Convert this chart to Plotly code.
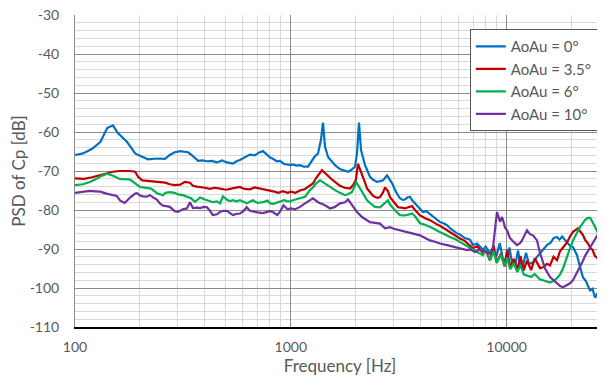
import plotly.graph_objects as go

# AoAu = 0 deg
freq_0 = [
    100, 109, 120, 131, 141, 150, 158, 166, 174, 182,
    190, 200, 218, 240, 261, 275, 290, 307, 320, 334,
    352, 372, 390, 409, 430, 455, 480, 506, 540, 560,
    581, 610, 646, 682, 710, 743, 776, 800, 828, 860,
    891, 930, 960, 1000, 1024, 1060, 1103, 1150, 1202, 1240,
    1290, 1337, 1380, 1410, 1441, 1488, 1550, 1603, 1690, 1746,
    1841, 1920, 1984, 2027, 2070, 2115, 2160, 2208, 2260, 2328,
    2400, 2509, 2600, 2675, 2792, 2870, 2944, 3080, 3206, 3300,
    3382, 3470, 3568, 3650, 3763, 3850, 3970, 4099, 4250, 4416,
    4560, 4730, 4913, 5100, 5294, 5500, 5700, 5891, 6081, 6400,
    6767, 6987, 7300, 7775, 8000, 8375, 8600, 9000, 9300, 9600,
    10044, 10300, 10600, 11000, 11300, 11600, 11913, 12300, 12700, 13253,
    13833, 14300, 14748, 15390, 16000, 16500, 17124, 17600, 18100, 19053,
    19700, 20314, 20700, 21200, 21700, 22594, 23300, 24350, 25000, 25700,
    26300, 27093, 27800, 28576,
]
psd_0 = [
    -65.9, -65.5, -64.3, -62.6, -59.0, -58.3, -60.3, -61.4, -62.5, -64.0,
    -65.5, -66.1, -67.0, -66.8, -66.9, -65.9, -65.2, -64.9, -65.0, -65.2,
    -66.2, -67.4, -67.3, -67.5, -67.4, -67.8, -67.3, -67.8, -68.1, -67.5,
    -67.2, -66.5, -65.8, -66.0, -65.3, -64.9, -65.9, -66.5, -66.9, -67.5,
    -67.4, -68.2, -68.3, -68.5, -68.3, -68.6, -68.5, -68.9, -68.9, -67.6,
    -66.3, -65.5, -62.0, -57.6, -63.8, -66.4, -67.6, -68.5, -69.5, -69.8,
    -70.2, -69.6, -68.9, -65.5, -57.6, -64.6, -66.8, -68.5, -69.8, -71.5,
    -72.2, -72.8, -72.6, -72.4, -71.1, -72.3, -73.1, -75.5, -77.0, -77.4,
    -77.3, -76.8, -76.6, -77.5, -78.3, -78.9, -79.6, -80.5, -80.3, -81.0,
    -81.8, -82.4, -83.1, -83.4, -83.9, -84.8, -85.4, -86.0, -86.3, -87.2,
    -87.6, -89.0, -88.6, -90.2, -89.4, -91.1, -90.5, -91.5, -88.5, -92.4,
    -93.4, -89.6, -93.6, -93.8, -90.4, -94.6, -94.2, -91.0, -93.8, -93.5,
    -92.0, -91.2, -90.2, -89.0, -88.4, -87.2, -86.9, -87.6, -86.8, -88.3,
    -89.2, -89.5, -90.6, -91.6, -93.8, -97.3, -98.2, -100.6, -100.2, -102.5,
    -101.4, -103.2, -102.6, -104.0,
]

# AoAu = 3.5 deg
freq_35 = [
    100, 110, 120, 131, 141, 150, 160, 170, 180, 190,
    196, 205, 215, 230, 248, 262, 275, 290, 307, 323,
    341, 352, 367, 380, 400, 422, 445, 470, 500, 530,
    560, 581, 610, 646, 680, 719, 760, 802, 840, 875,
    920, 966, 1000, 1050, 1103, 1164, 1227, 1267, 1309, 1366,
    1395, 1441, 1500, 1560, 1603, 1690, 1780, 1881, 1950, 2000,
    2048, 2100, 2138, 2208, 2256, 2328, 2400, 2456, 2520, 2591,
    2675, 2733, 2822, 2883, 3000, 3140, 3250, 3382, 3500, 3645,
    3763, 3845, 3970, 4100, 4188, 4416, 4560, 4800, 5000, 5294,
    5500, 5800, 6081, 6400, 6700, 6987, 7300, 7775, 8000, 8375,
    8700, 9000, 9400, 9800, 10044, 10400, 10800, 11200, 11600, 12000,
    12431, 13000, 13500, 14283, 14748, 15390, 15891, 16500, 17124, 17700,
    18257, 19053, 19673, 20314, 20753, 21428, 21888, 22594, 23085, 23834,
    24350, 25000, 25688, 26240, 27093, 27800, 28576,
]
psd_35 = [
    -71.9, -72.0, -71.6, -71.0, -70.6, -70.2, -70.0, -70.0, -70.0, -70.2,
    -71.5, -72.4, -72.5, -72.6, -72.8, -73.0, -73.4, -73.6, -73.5, -72.8,
    -73.0, -73.8, -74.0, -74.2, -74.3, -74.6, -74.3, -74.5, -74.8, -74.5,
    -74.2, -74.1, -74.6, -74.7, -74.2, -74.5, -74.8, -74.9, -75.3, -75.6,
    -75.2, -75.6, -75.3, -75.6, -75.0, -74.6, -73.8, -73.2, -71.8, -70.3,
    -69.8, -70.5, -71.5, -72.3, -72.8, -73.8, -74.3, -74.5, -73.5, -72.4,
    -68.2, -70.0, -71.1, -73.0, -74.5, -75.5, -76.3, -76.7, -76.9, -76.7,
    -75.5, -74.2, -75.2, -76.7, -78.0, -79.3, -79.4, -79.6, -79.3, -79.0,
    -80.0, -80.5, -81.4, -81.8, -82.1, -82.6, -83.1, -83.8, -84.3, -85.2,
    -85.7, -86.7, -87.3, -87.9, -88.9, -89.8, -89.3, -91.0, -90.4, -92.9,
    -89.0, -93.5, -91.2, -94.5, -90.2, -94.8, -92.5, -95.3, -91.8, -95.5,
    -93.0, -95.4, -92.4, -94.9, -94.7, -93.8, -94.2, -92.0, -92.9, -90.5,
    -89.6, -88.3, -86.8, -85.6, -85.2, -84.7, -85.4, -86.4, -87.6, -88.6,
    -89.6, -90.2, -91.8, -92.2, -93.6, -94.2, -95.0,
]

# AoAu = 6 deg
freq_6 = [
    100, 109, 117, 124, 131, 141, 150, 156, 162, 170,
    180, 190, 200, 207, 216, 225, 240, 256, 262, 275,
    290, 300, 316, 330, 345, 360, 380, 400, 420, 436,
    455, 470, 485, 506, 523, 540, 560, 581, 610, 625,
    645, 667, 700, 743, 780, 802, 830, 865, 900, 930,
    966, 1000, 1050, 1103, 1164, 1227, 1267, 1309, 1366, 1420,
    1472, 1530, 1603, 1690, 1783, 1850, 1921, 1984, 2005, 2050,
    2093, 2150, 2256, 2350, 2456, 2591, 2675, 2822, 2883, 2976,
    3100, 3206, 3382, 3500, 3645, 3763, 3970, 4188, 4416, 4560,
    4800, 5000, 5294, 5500, 5800, 6081, 6400, 6700, 6987, 7300,
    7775, 8000, 8375, 8700, 9000, 9400, 9800, 10044, 10400, 10800,
    11200, 11600, 12000, 12431, 13000, 13500, 14283, 14748, 15390, 15891,
    16500, 17124, 17700, 18257, 19053, 19673, 20314, 20753, 21428, 21888,
    22594, 23085, 23834, 24350, 25000, 25688, 26240, 27093, 27800, 28576,
]
psd_6 = [
    -73.6, -73.4, -72.8, -72.2, -71.4, -70.7, -71.2, -71.7, -72.1, -72.1,
    -72.2, -73.2, -74.1, -74.2, -74.3, -74.5, -75.7, -76.2, -75.6, -75.4,
    -75.6, -76.0, -76.2, -76.5, -77.0, -77.9, -76.8, -77.3, -77.8, -78.0,
    -77.8, -78.3, -76.5, -77.4, -77.7, -77.5, -77.8, -77.5, -78.0, -78.3,
    -77.9, -77.5, -78.2, -78.0, -77.6, -78.3, -78.4, -78.0, -77.8, -77.5,
    -77.8, -77.7, -77.3, -77.0, -76.6, -74.9, -74.2, -73.2, -72.4, -73.0,
    -73.6, -74.3, -74.9, -75.6, -76.2, -75.9, -75.4, -73.6, -72.8, -73.6,
    -74.5, -75.8, -77.5, -78.4, -79.2, -79.3, -78.6, -77.5, -78.6, -79.6,
    -80.6, -81.3, -81.4, -81.2, -80.9, -81.6, -83.4, -83.8, -84.3, -84.7,
    -85.4, -85.9, -86.5, -87.0, -87.5, -88.2, -88.8, -89.7, -90.3, -90.8,
    -91.6, -89.8, -92.9, -90.6, -93.6, -91.4, -94.4, -92.2, -95.2, -93.6,
    -95.9, -94.2, -96.5, -96.8, -97.2, -96.4, -97.8, -98.0, -98.3, -98.6,
    -98.2, -97.5, -96.5, -95.0, -92.0, -89.6, -87.8, -86.8, -85.2, -84.4,
    -83.3, -82.6, -82.0, -82.0, -83.0, -84.5, -85.2, -87.0, -88.3, -89.6,
]

# AoAu = 10 deg
freq_10 = [
    100, 110, 117, 124, 131, 140, 150, 156, 162, 170,
    180, 190, 194, 200, 207, 215, 222, 231, 240, 248,
    256, 265, 275, 290, 300, 316, 330, 341, 352, 367,
    380, 395, 409, 422, 435, 455, 470, 485, 506, 523,
    540, 560, 581, 600, 625, 646, 667, 700, 743, 780,
    802, 830, 865, 890, 925, 966, 1000, 1050, 1103, 1164,
    1227, 1267, 1337, 1441, 1519, 1603, 1690, 1783, 1841, 1921,
    2027, 2138, 2256, 2328, 2456, 2591, 2733, 2883, 3000, 3206,
    3382, 3568, 3763, 3970, 4188, 4416, 4700, 4913, 5294, 5466,
    5891, 6081, 6553, 6767, 7138, 7500, 7775, 8100, 8375, 8650,
    8932, 9028, 9320, 9521, 9623, 9831, 10044, 10370, 10708, 11174,
    11538, 11787, 12431, 12835, 13253, 13833, 14283, 14748, 15064, 15891,
    16500, 17124, 17700, 18257, 19053, 19673, 20314, 20753, 21428, 21888,
    22594, 23085, 23834, 24350, 25000, 25688, 26240, 27093, 27800, 28576,
]
psd_10 = [
    -75.6, -75.3, -75.1, -75.2, -75.3, -75.8, -76.2, -76.4, -77.6, -78.2,
    -76.8, -75.8, -75.7, -76.3, -76.5, -76.6, -76.2, -76.9, -77.4, -78.4,
    -78.9, -79.0, -79.2, -80.3, -80.5, -79.8, -79.6, -78.0, -79.5, -79.4,
    -79.5, -79.2, -79.3, -80.2, -81.3, -81.1, -80.5, -80.2, -80.2, -80.8,
    -81.3, -81.0, -80.9, -80.4, -79.3, -80.2, -80.4, -80.6, -80.8, -80.5,
    -80.3, -80.6, -81.3, -80.5, -78.8, -79.8, -79.6, -79.8, -79.2, -78.3,
    -77.5, -77.0, -78.0, -78.8, -79.6, -79.2, -78.3, -78.0, -77.3, -78.8,
    -80.5, -81.8, -82.6, -83.1, -83.3, -83.5, -84.7, -84.4, -84.8, -85.2,
    -85.5, -86.0, -86.3, -86.5, -87.2, -87.8, -88.2, -88.6, -89.0, -89.2,
    -89.6, -89.8, -90.3, -90.1, -90.8, -90.2, -90.3, -90.8, -91.1, -89.6,
    -82.0, -80.5, -83.0, -81.8, -82.5, -84.5, -85.2, -87.2, -88.0, -89.0,
    -88.5, -87.8, -85.2, -86.2, -86.5, -87.8, -91.0, -93.5, -95.0, -97.2,
    -98.0, -98.8, -99.5, -99.8, -99.3, -98.8, -98.0, -97.0, -95.8, -94.7,
    -93.0, -91.8, -90.5, -89.6, -88.5, -87.2, -86.3, -85.2, -84.3, -83.5,
]

y_ticks = [-110, -100, -90, -80, -70, -60, -50, -40, -30]
x_ticks = [100, 1000, 10000]

series = [
    ("AoAu = 0°", freq_0, psd_0, "#0070C0"),
    ("AoAu = 3.5°", freq_35, psd_35, "#C00000"),
    ("AoAu = 6°", freq_6, psd_6, "#00B050"),
    ("AoAu = 10°", freq_10, psd_10, "#7030A0"),
]

FONT = "Lato, 'Open Sans', sans-serif"
TEXT = "#595959"

fig = go.Figure()
for name, f, p, c in series:
    fig.add_trace(go.Scatter(
        x=f, y=p, name=name, mode="lines",
        line=dict(color=c, width=2.2),
    ))

# the page body keeps its default 8px margin, so the figure is 8px smaller
# and the margins are trimmed to land the plot where the original has it
fig.update_layout(
    width=597, height=373,
    margin=dict(l=67, r=0, t=7, b=54),
    paper_bgcolor="white",
    plot_bgcolor="white",
    font=dict(family=FONT, size=14, color=TEXT),
    legend=dict(
        x=0.745, y=0.955, xanchor="left", yanchor="top",
        bgcolor="white", bordercolor="#595959", borderwidth=1,
        font=dict(size=15, color=TEXT),
        tracegroupgap=0,
    ),
    xaxis=dict(
        type="log",
        range=[2, 4.456],
        tickvals=x_ticks,
        ticktext=[str(v) for v in x_ticks],
        showgrid=True, gridcolor="#8c8c8c", gridwidth=1,
        minor=dict(showgrid=True, gridcolor="#d9d9d9", dtick="D1"),
        showline=True, linecolor="black", linewidth=2,
        ticks="", ticklabelstandoff=6,
        zeroline=False, automargin=False,
        title=dict(text="Frequency [Hz]", standoff=6),
    ),
    yaxis=dict(
        range=[-110, -30],
        tickvals=y_ticks,
        ticktext=[str(v) for v in y_ticks],
        showgrid=True, gridcolor="#8c8c8c", gridwidth=1,
        minor=dict(showgrid=True, gridcolor="#d9d9d9", dtick=2),
        showline=True, linecolor="#8c8c8c", linewidth=1,
        ticks="", ticklabelstandoff=12, ticklabeloverflow="allow",
        zeroline=False, automargin=False,
        title=dict(text="PSD of Cp [dB]", standoff=12),
    ),
)

fig.write_html("out.html")
